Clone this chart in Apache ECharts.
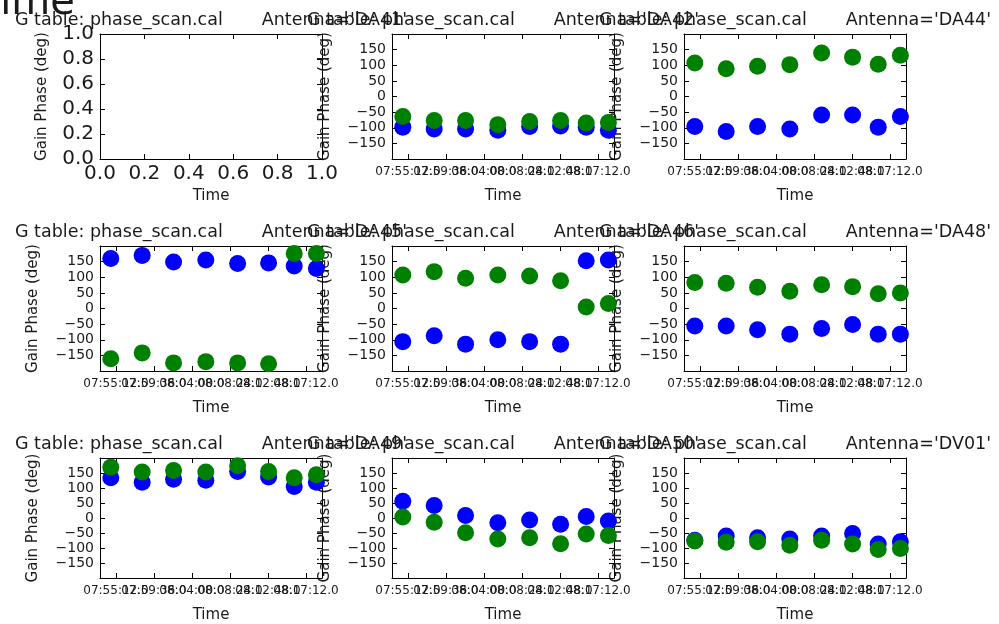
<!DOCTYPE html>
<html>
<head>
<meta charset="utf-8">
<script src="https://cdn.jsdelivr.net/npm/echarts@6/dist/echarts.min.js"></script>
<style>html,body{margin:0;padding:0;background:#fff;}#c{width:999px;height:624px;}</style>
</head>
<body>
<div id="c"></div>
<script>
// ---- data ----
const antennas = ['DA41','DA42','DA44','DA45','DA46','DA48','DA49','DA50','DV01'];
const times = ['07:54:36','07:58:14','08:01:52','08:05:36','08:09:17','08:12:52','08:15:50','08:18:24'];
const tickTimes = ['07:55:12','07:59:36','08:04:00','08:08:24','08:12:48','08:17:12'];
const tickLabels = ['07:55:12.0','07:59:36.0','08:04:00.0','08:08:24.0','08:12:48.0','08:17:12.0'];

const blueDA42 = [-98,-104,-104,-108,-96,-94,-98,-108];
const greenDA42 = [-64,-77,-77,-90,-80,-77,-85,-83];
const blueDA44 = [-96,-112,-96,-104,-59,-59,-98,-64];
const greenDA44 = [107,89,97,102,139,126,103,132];
const blueDA45 = [160,170,149,155,144,146,136,128];
const greenDA45 = [-161,-142,-174,-170,-174,-177,176,176];
const blueDA46 = [-106,-87,-114,-100,-106,-114,153,155];
const greenDA46 = [107,118,97,107,104,89,5,16];
const blueDA48 = [-56,-56,-68,-82,-64,-51,-82,-82];
const greenDA48 = [83,81,68,55,76,70,47,50];
const blueDA49 = [134,119,129,126,155,137,105,119];
const greenDA49 = [169,153,158,153,174,155,134,144];
const blueDA50 = [56,42,8,-16,-7,-21,5,-10];
const greenDA50 = [3,-14,-49,-70,-66,-86,-53,-58];
const blueDV01 = [-74,-60,-66,-70,-60,-52,-87,-79];
const greenDV01 = [-77,-81,-79,-91,-74,-87,-105,-102];

const panelBlue = [null, blueDA42, blueDA44, blueDA45, blueDA46, blueDA48, blueDA49, blueDA50, blueDV01];
const panelGreen = [null, greenDA42, greenDA44, greenDA45, greenDA46, greenDA48, greenDA49, greenDA50, greenDV01];

// ---- helpers ----
function toSec(s){ const p = s.split(':').map(Number); return p[0]*3600 + p[1]*60 + p[2]; }
const tSec = times.map(toSec);
const tickSec = tickTimes.map(toSec);
const tickEven = tickSec.filter((v, i) => i % 2 === 0);
const tickOdd = tickSec.filter((v, i) => i % 2 === 1);
const X_MIN = tickSec[0] - 111, X_MAX = tickSec[tickSec.length-1] + 111;
const fmtTime = v => { const i = tickSec.indexOf(v); return i >= 0 ? tickLabels[i] : ''; };

const FONT = 'DejaVu Sans';
const TXT = '#1a1a1a';
const colLeft = [100, 392, 684];
const rowTop = [34, 246, 458];
const W = 222, H = 125;

const grids = [], xAxes = [], yAxes = [], series = [], titles = [];
for (let p = 0; p < 9; p++) {
  const r = Math.floor(p / 3), c = p % 3;
  grids.push({left: colLeft[c], top: rowTop[r], width: W, height: H});
  titles.push({
    text: 'G table: phase_scan.cal       Antenna=\'' + antennas[p] + '\'',
    left: 15 + c * 292, top: rowTop[r] - 23, padding: 0,
    textStyle: {fontFamily: FONT, fontSize: 17.5, fontWeight: 'normal', color: TXT}
  });
  const line = {show: true, onZero: false, lineStyle: {color: '#000', width: 1}};
  const tick = {inside: true, length: 5, lineStyle: {color: '#000'}};
  const nameStyle = {fontFamily: FONT, fontSize: 15, color: TXT};
  if (p === 0) {
    const big = {fontFamily: FONT, fontSize: 20, color: TXT};
    xAxes.push({gridIndex: p, type: 'value', position: 'bottom', min: 0, max: 1, interval: 0.2, axisLine: line, axisTick: tick,
      axisLabel: Object.assign({margin: 5, showMinLabel: true, showMaxLabel: true, formatter: v => v.toFixed(1)}, big),
      splitLine: {show: false},
      name: 'Time', nameLocation: 'middle', nameGap: 30, nameTextStyle: nameStyle});
    xAxes.push({gridIndex: p, type: 'value', position: 'top', min: 0, max: 1, interval: 0.2, axisLine: line,
      axisTick: tick, axisLabel: {show: false}, splitLine: {show: false}});
    yAxes.push({gridIndex: p, type: 'value', position: 'left', min: 0, max: 1, interval: 0.2, axisLine: line, axisTick: tick,
      axisLabel: Object.assign({margin: 6, showMinLabel: true, showMaxLabel: true, formatter: v => v.toFixed(1)}, big),
      splitLine: {show: false},
      name: 'Gain Phase (deg)', nameLocation: 'middle', nameGap: 50, nameRotate: 90, nameTextStyle: nameStyle});
    yAxes.push({gridIndex: p, type: 'value', position: 'right', min: 0, max: 1, interval: 0.2, axisLine: line,
      axisTick: tick, axisLabel: {show: false}, splitLine: {show: false}});
    continue;
  }
  const xIdx = xAxes.length, yIdx = yAxes.length;
  const tickLbl = {margin: 7, fontFamily: FONT, fontSize: 12, color: TXT,
    showMinLabel: true, showMaxLabel: true, hideOverlap: false, formatter: fmtTime};
  // bottom axis: line, ticks, name, labels of even ticks
  xAxes.push({gridIndex: p, type: 'value', position: 'bottom', min: X_MIN, max: X_MAX, axisLine: line,
    axisTick: Object.assign({customValues: tickSec}, tick),
    axisLabel: Object.assign({customValues: tickEven}, tickLbl),
    splitLine: {show: false},
    name: 'Time', nameLocation: 'middle', nameGap: 30, nameTextStyle: nameStyle});
  // bottom axis: labels of odd ticks (they overlap the neighbours, as in the original)
  xAxes.push({gridIndex: p, type: 'value', position: 'bottom', min: X_MIN, max: X_MAX,
    axisLine: {show: false}, axisTick: {show: false},
    axisLabel: Object.assign({customValues: tickOdd}, tickLbl), splitLine: {show: false}});
  // top axis: ticks only
  xAxes.push({gridIndex: p, type: 'value', position: 'top', min: X_MIN, max: X_MAX, axisLine: line,
    axisTick: Object.assign({customValues: tickSec}, tick),
    axisLabel: {show: false}, splitLine: {show: false}});
  yAxes.push({gridIndex: p, type: 'value', position: 'left', min: -200, max: 200, interval: 50, axisLine: line, axisTick: tick,
    axisLabel: {margin: 6, fontFamily: FONT, fontSize: 14, color: TXT,
      formatter: v => (Math.abs(v) === 200 ? '' : (v < 0 ? '\u2212' + Math.abs(v) : String(v)))},
    splitLine: {show: false},
    name: 'Gain Phase (deg)', nameLocation: 'middle', nameGap: 59, nameRotate: 90, nameTextStyle: nameStyle});
  yAxes.push({gridIndex: p, type: 'value', position: 'right', min: -200, max: 200, interval: 50, axisLine: line,
    axisTick: tick, axisLabel: {show: false}, splitLine: {show: false}});
  series.push({type: 'scatter', xAxisIndex: xIdx, yAxisIndex: yIdx, symbolSize: 17, clip: true,
    itemStyle: {color: '#0000ff', opacity: 1}, data: tSec.map((t, i) => [t, panelBlue[p][i]])});
  series.push({type: 'scatter', xAxisIndex: xIdx, yAxisIndex: yIdx, symbolSize: 17, clip: true,
    itemStyle: {color: '#008000', opacity: 1}, data: tSec.map((t, i) => [t, panelGreen[p][i]])});
}

const chart = echarts.init(document.getElementById('c'), null, {renderer: 'canvas'});
chart.setOption({
  animation: false,
  backgroundColor: '#ffffff',
  title: titles,
  grid: grids,
  xAxis: xAxes,
  yAxis: yAxes,
  series: series,
  graphic: [{type: 'text', x: -23, y: 24, style: {text: 'Time', font: '40px "DejaVu Sans"', fill: TXT, textVerticalAlign: 'bottom'}}]
});
</script>
</body>
</html>
